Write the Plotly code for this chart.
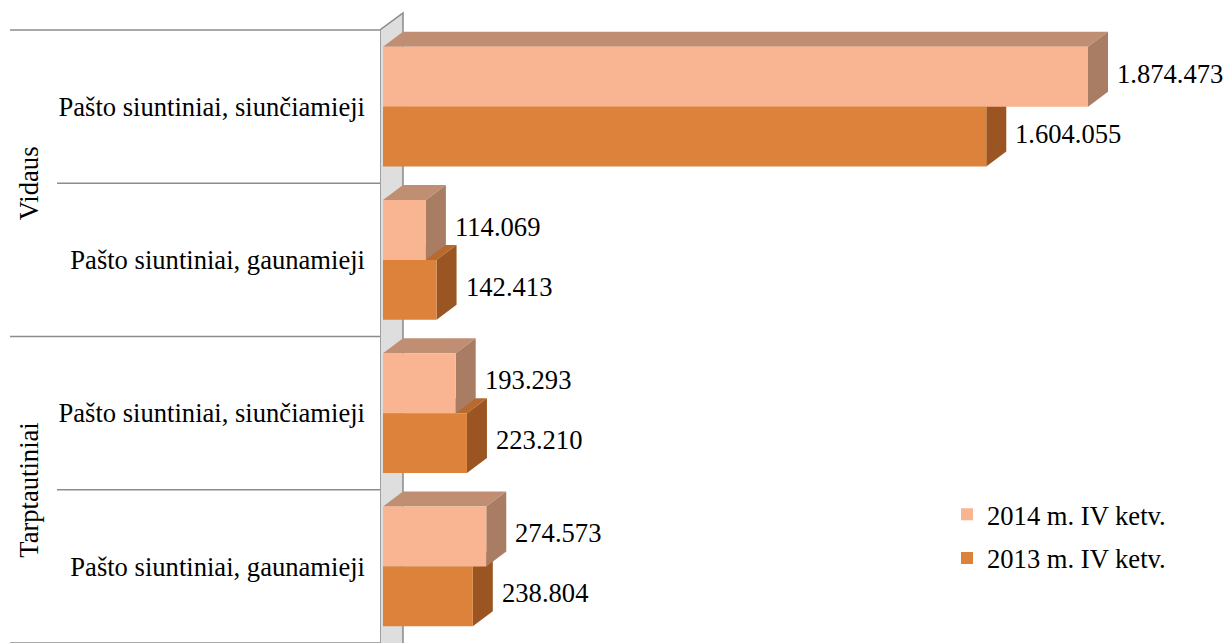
import plotly.graph_objects as go

# ---- data ----
groups = ["Vidaus", "Tarptautiniai"]
group_positions = [0.5, 2.5]
categories = ["Pašto siuntiniai, siunčiamieji", "Pašto siuntiniai, gaunamieji",
              "Pašto siuntiniai, siunčiamieji", "Pašto siuntiniai, gaunamieji"]
series_names = ["2014 m. IV ketv.", "2013 m. IV ketv."]
values_2014 = [1874473, 114069, 193293, 274573]
values_2013 = [1604055, 142413, 223210, 238804]

# ---- style / geometry ----
FONT = "Liberation Serif"
FS = 26.6
W, H = 1228, 643
ML, MR, MT, MB = 380, 0, 10, 0
plot_w = W - ML - MR
plot_h = H - MT - MB
cat_px = 153.25
y_top = -0.5 - 20 / cat_px
y_bot = y_top + plot_h / cat_px
x_max = max(values_2014 + values_2013) * 1.1986
x_per_px = x_max / (plot_w - 3)
x_min = -3 * x_per_px
bargap = 0.22
bw = (1 - bargap) / 2
DX, DY = 20, 15
dx = DX * x_per_px
dy = DY / cat_px

front_cols = ["#F9B592", "#DC823A"]
top_cols = ["#C08E72", "#B86A2C"]
side_cols = ["#A97C64", "#9A5522"]
ypos = list(range(len(categories)))

def fmt(v):
    return f"{v:,}".replace(",", ".")

fig = go.Figure()
series = [values_2014, values_2013]
offsets = [-bw, 0.0]
for s, (name, vals) in enumerate(zip(series_names, series)):
    fig.add_trace(go.Bar(
        y=ypos, x=vals, orientation="h", name=name,
        width=bw, offset=offsets[s],
        marker=dict(color=front_cols[s], line=dict(width=0)),
        legendgroup=name, hoverinfo="skip",
    ))

shapes = []
# side wall
wall_w = 23 * x_per_px
wall_dy = 17 / cat_px
shapes.append(dict(type="path", xref="x", yref="y", layer="below",
                   path=f"M{x_min},{-0.5} L{x_min + wall_w},{-0.5 - wall_dy} "
                        f"L{x_min + wall_w},{y_bot + 0.2} L{x_min},{y_bot + 0.2} Z",
                   fillcolor="#DEDEDE", line=dict(color="#8A8A8A", width=1.5)))
# 3D faces (lower series first so the upper one's side face covers it)
for s in [1, 0]:
    vals = series[s]
    for i, v in enumerate(vals):
        y0 = i + offsets[s]
        y1 = y0 + bw
        top = f"M0,{y0} L{v},{y0} L{v + dx},{y0 - dy} L{dx},{y0 - dy} Z"
        side = f"M{v},{y0} L{v + dx},{y0 - dy} L{v + dx},{y1 - dy} L{v},{y1} Z"
        shapes.append(dict(type="path", xref="x", yref="y", layer="below", path=top,
                           fillcolor=top_cols[s], line=dict(width=0)))
        shapes.append(dict(type="path", xref="x", yref="y", layer="below", path=side,
                           fillcolor=side_cols[s], line=dict(width=0)))

def py(val):
    return (y_bot - val) / (y_bot - y_top)

def px_paper(pix):
    return (pix - ML) / plot_w

# category divider lines
for b in [-0.5, 0.5, 1.5, 2.5, 3.5]:
    outer = b in (-0.5, 1.5, 3.5)
    shapes.append(dict(type="line", xref="paper", yref="paper",
                       x0=px_paper(10 if outer else 57), x1=px_paper(380),
                       y0=py(b), y1=py(b), line=dict(color="#8C8C8C", width=1.5)))

annotations = []
for g, gp in zip(groups, group_positions):
    annotations.append(dict(text=g, xref="paper", yref="paper", x=px_paper(29), y=py(gp),
                            textangle=-90, showarrow=False, xanchor="center", yanchor="middle",
                            font=dict(family=FONT, size=FS, color="#000")))
for s, vals in enumerate(series):
    for i, v in enumerate(vals):
        annotations.append(dict(text=fmt(v), xref="x", yref="y", x=v, y=i + offsets[s] + bw / 2,
                                xanchor="left", yanchor="middle", xshift=27, yshift=3,
                                showarrow=False, font=dict(family=FONT, size=FS, color="#000")))

fig.update_layout(
    width=W, height=H, margin=dict(l=ML, r=MR, t=MT, b=MB, pad=0, autoexpand=False),
    paper_bgcolor="white", plot_bgcolor="rgba(0,0,0,0)",
    barmode="overlay",
    font=dict(family=FONT, size=FS, color="#000"),
    xaxis=dict(range=[x_min, x_max], visible=False, fixedrange=True),
    yaxis=dict(range=[y_bot, y_top], tickvals=ypos, ticktext=categories,
               showgrid=False, zeroline=False, showline=False, ticks="",
               automargin=False, fixedrange=True,
               ticklabelstandoff=14, tickfont=dict(family=FONT, size=FS, color="#000")),
    showlegend=True,
    legend=dict(x=px_paper(947), y=py(2.505), xanchor="left", yanchor="top",
                traceorder="grouped", tracegroupgap=6,
                font=dict(family=FONT, size=FS, color="#000"),
                bgcolor="rgba(0,0,0,0)", borderwidth=0),
    shapes=shapes, annotations=annotations,
)

fig.write_html("out.html", config={"displayModeBar": False},
               post_script="document.body.style.margin='0';document.body.style.overflow='hidden';")
